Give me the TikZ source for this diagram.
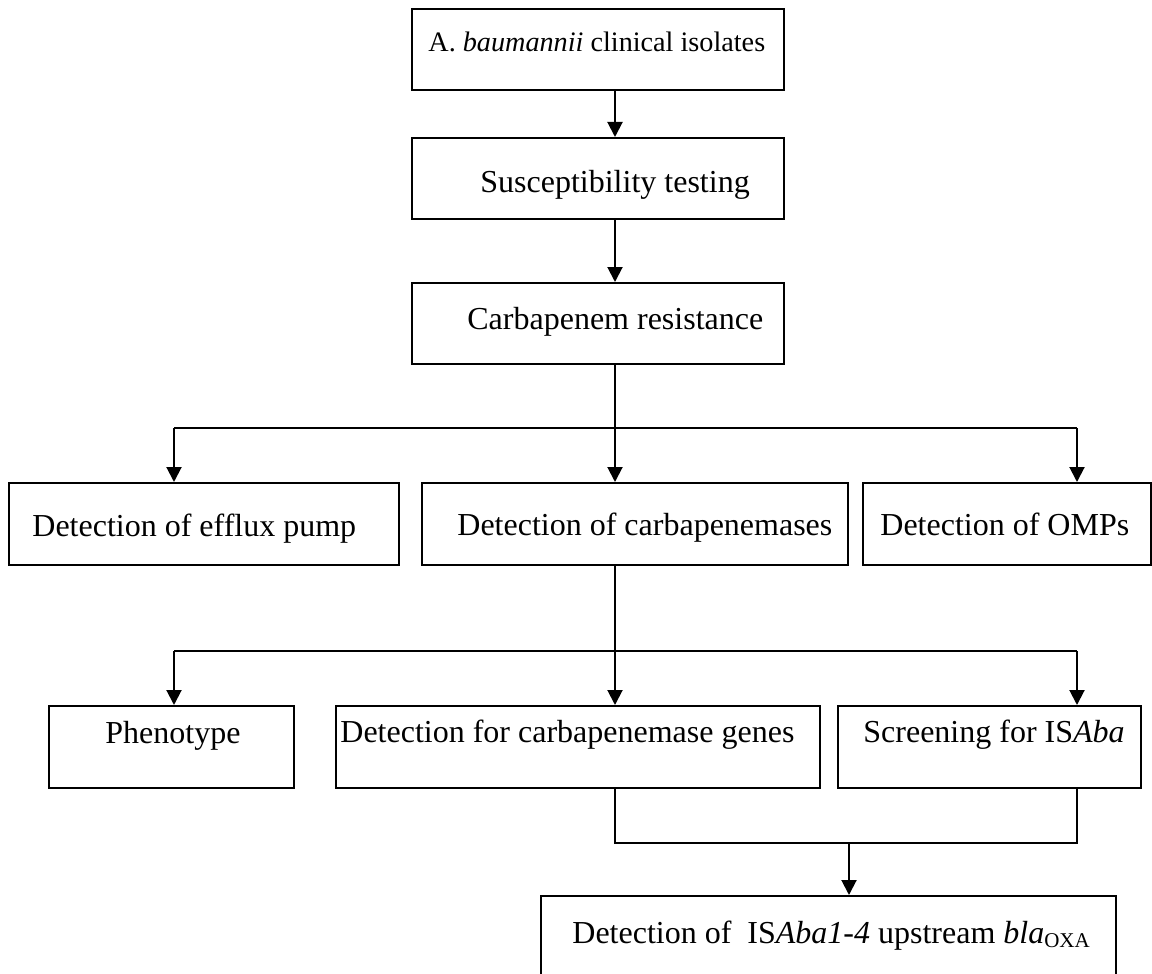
\documentclass[tikz,border=0pt]{standalone}
\usepackage{fontspec}
\setmainfont{Liberation Serif}
\usetikzlibrary{arrows.meta}
\begin{document}
\begin{tikzpicture}[x=0.5pt,y=-0.5pt,
  box/.style={draw=black, line width=1pt, rectangle, inner sep=0pt},
  lbl/.style={anchor=base west, inner sep=0pt, font=\fontsize{16}{19}\selectfont},
  conn/.style={draw=black, line width=1pt},
  arr/.style={conn, -{Triangle[width=7.5pt,length=7.5pt]}}]
\useasboundingbox (0,0) rectangle (1152,974);
% boxes (by corners)
\newcommand{\bx}[5]{\node[box, minimum width={(#4-#2)*0.5pt}, minimum height={(#5-#3)*0.5pt}] (#1) at ({(#2+#4)/2},{(#3+#5)/2}) {};}
\bx{b1}{412}{9}{784}{90}
\bx{b2}{412}{138}{784}{219}
\bx{b3}{412}{283}{784}{364}
\bx{eff}{9}{483}{399}{565}
\bx{carb}{422}{483}{848}{565}
\bx{omp}{863}{483}{1151}{565}
\bx{phen}{49}{706}{294}{788}
\bx{gene}{336}{706}{820}{788}
\bx{scr}{838}{706}{1141}{788}
\bx{isab}{541}{896}{1116}{990}
% texts
\node[lbl, font=\fontsize{14.1}{17}\selectfont] (t1) at (428,52) {A. \textit{baumannii} clinical isolates};
\node[lbl] (t2) at (480,192) {Susceptibility testing};
\node[lbl] (t3) at (467,329) {Carbapenem resistance};
\node[lbl] (t4) at (32,536) {Detection of efflux pump};
\node[lbl] (t5) at (457,535) {Detection of carbapenemases};
\node[lbl] (t6) at (880,535) {Detection of OMPs};
\node[lbl] (t7) at (105,743) {Phenotype};
\node[lbl] (t8) at (340,742) {Detection for carbapenemase genes};
\node[lbl] (t9) at (863,742) {Screening for IS\textit{Aba}};
\node[lbl] (t10) at (572,943) {Detection of\ \ IS\textit{Aba1-4} upstream \textit{bla}\raisebox{-0.3ex}{\fontsize{10.5}{12}\selectfont OXA}};
% junction coordinates
\coordinate (j1) at (615,428);
\coordinate (j1l) at (174,428);
\coordinate (j1r) at (1077,428);
\coordinate (j2) at (615,651);
\coordinate (j2l) at (174,651);
\coordinate (j2r) at (1077,651);
\coordinate (j3l) at (615,843);
\coordinate (j3r) at (1077,843);
\coordinate (j3) at (849,843);
% connectors
\draw[arr] (b1.south -| j1) -- (b2.north -| j1);
\draw[arr] (b2.south -| j1) -- (b3.north -| j1);
\draw[conn] (b3.south -| j1) -- (j1);
\draw[conn] (j1l) -- (j1r);
\draw[arr] (j1l) -- (eff.north -| j1l);
\draw[arr] (j1) -- (carb.north -| j1);
\draw[arr] (j1r) -- (omp.north -| j1r);
\draw[conn] (carb.south -| j2) -- (j2);
\draw[conn] (j2l) -- (j2r);
\draw[arr] (j2l) -- (phen.north -| j2l);
\draw[arr] (j2) -- (gene.north -| j2);
\draw[arr] (j2r) -- (scr.north -| j2r);
\draw[conn] (gene.south -| j3l) -- (j3l) -- (j3r) -- (scr.south -| j3r);
\draw[arr] (j3) -- (isab.north -| j3);
\end{tikzpicture}
\end{document}
